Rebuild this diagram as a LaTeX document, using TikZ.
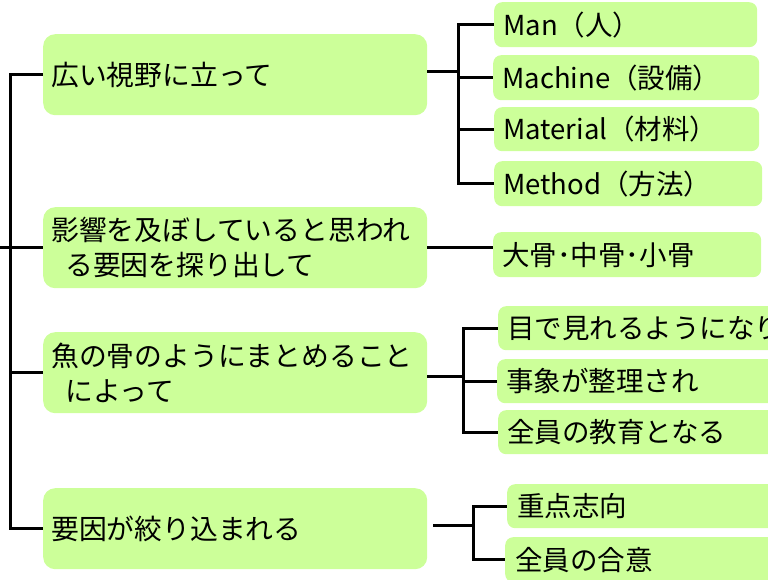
\documentclass[tikz,border=0pt]{standalone}
\usepackage{fontspec}
\newfontfamily\jp{Noto Sans CJK JP}
\definecolor{boxgreen}{HTML}{CCFF99}
\begin{document}
\begin{tikzpicture}[x=1pt,y=-1pt,
  bigbox/.style={fill=boxgreen, rounded corners=12pt, anchor=north west,
    minimum width=384pt, minimum height=81pt, text width=368pt,
    inner xsep=8pt, inner ysep=0pt, align=left,
    font=\jp\fontsize{27.8}{35}\selectfont},
  smallbox/.style={fill=boxgreen, rounded corners=8pt, anchor=north west,
    minimum height=45pt, inner xsep=9pt, inner ysep=0pt, align=left,
    font=\jp\fontsize{27.5}{32}\selectfont},
  conn/.style={draw=black, line width=3pt}]
\useasboundingbox (0,0) rectangle (768,580);
\clip (0,0) rectangle (768,580);

% left boxes
\node[bigbox] (b1) at (43,34) {広い視野に立って};
\node[bigbox] (b2) at (43,207) {影響を及ぼしていると思われ\\\hspace{14pt}る要因を探り出して};
\node[bigbox] (b3) at (43,332) {魚の骨のようにまとめること\\\hspace{14pt}によって};
\node[bigbox] (b4) at (43,488) {要因が絞り込まれる};

% right boxes
\node[smallbox, minimum width=263pt, text width=245pt] (man) at (494,2) {Man（人）};
\node[smallbox, minimum width=266pt, text width=248pt] (machine) at (493,55) {Machine（設備）};
\node[smallbox, minimum width=265pt, text width=247pt, minimum height=44pt] (material) at (494,107) {Material（材料）};
\node[smallbox, minimum width=268pt, text width=250pt] (method) at (494,161) {Method（方法）};
\node[smallbox, minimum width=268pt, text width=250pt] (dai) at (493,232) {大骨･中骨･小骨};
\node[smallbox, minimum width=300pt, text width=282pt, minimum height=44pt] (me) at (498,306) {目で見れるようになり};
\node[smallbox, minimum width=300pt, text width=282pt, minimum height=44pt] (jisho) at (497,359) {事象が整理され};
\node[smallbox, minimum width=300pt, text width=282pt, minimum height=44pt] (kyoiku) at (498,410) {全員の教育となる};
\node[smallbox, minimum width=300pt, text width=280pt, inner xsep=10pt, minimum height=44pt] (juten) at (507,484) {重点志向};
\node[smallbox, minimum width=300pt, text width=280pt, inner xsep=10pt] (goi) at (505,537) {全員の合意};

% spine
\coordinate (root) at (0,247);
\coordinate (s) at (10,247);
\draw[conn] (root) -- (s);
\draw[conn] (s) |- (b1.west);
\draw[conn] (s) |- (b2.west);
\draw[conn] (s) |- (b3.west);
\draw[conn] (s) |- (b4.west);

% group 1
\coordinate (j1) at (458,72);
\draw[conn] (b1.east |- j1) -- (j1);
\draw[conn] (j1) |- (man.west);
\draw[conn] (j1) |- (machine.west);
\draw[conn] (j1) |- (material.west);
\draw[conn] (j1) |- (method.west);

% group 2
\draw[conn] (b2.east) -- (b2.east -| dai.west);

% group 3
\coordinate (j3) at (463,376);
\draw[conn] (b3.east |- j3) -- (j3);
\draw[conn] (j3) |- (me.west);
\draw[conn] (j3) |- (jisho.west);
\draw[conn] (j3) |- (kyoiku.west);

% group 4
\coordinate (j4) at (473,525);
\coordinate (k4) at (433,525);
\draw[conn] (k4) -- (j4);
\draw[conn] (j4) |- (juten.west);
\draw[conn] (j4) |- (goi.west);
\end{tikzpicture}
\end{document}
